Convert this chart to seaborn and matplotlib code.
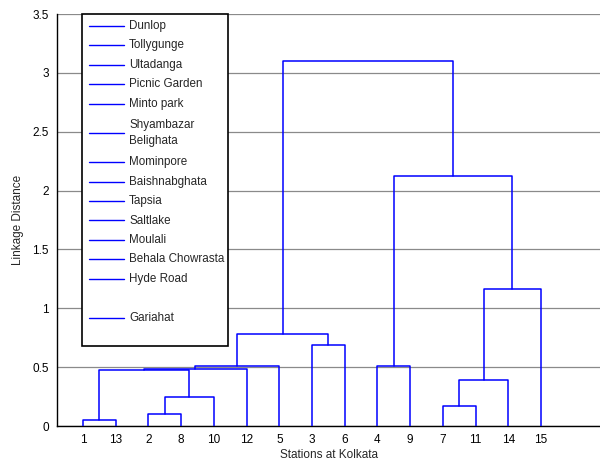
import matplotlib
matplotlib.use("Agg")
import matplotlib.pyplot as plt
import seaborn as sns
import pandas as pd
from matplotlib.patches import Rectangle
from matplotlib.lines import Line2D

# ---------------- data ----------------
leaf_order = [1, 13, 2, 8, 10, 12, 5, 3, 6, 4, 9, 7, 11, 14, 15]
# merges: (name, left child, right child, linkage distance)
merge_names = ["A", "B", "C", "D", "E", "F", "G", "H", "I", "J", "K", "L", "M", "N"]
merge_left = ["1", "2", "B", "A", "D", "E", "3", "F", "4", "7", "J", "K", "I", "H"]
merge_right = ["13", "8", "10", "C", "12", "5", "6", "G", "9", "11", "14", "15", "L", "M"]
merge_height = [0.055, 0.100, 0.250, 0.478, 0.486, 0.506, 0.687, 0.779,
                0.507, 0.167, 0.388, 1.162, 2.120, 3.100]

legend_labels = ["Dunlop", "Tollygunge", "Ultadanga", "Picnic Garden", "Minto park",
                 "Shyambazar\nBelighata", "Mominpore", "Baishnabghata", "Tapsia",
                 "Saltlake", "Moulali", "Behala Chowrasta", "Hyde Road", "", "Gariahat"]

y_ticks = [0, 0.5, 1, 1.5, 2, 2.5, 3, 3.5]
y_tick_labels = ["0", "0.5", "1", "1.5", "2", "2.5", "3", "3.5"]

# ---------------- build dendrogram segments ----------------
pos = {str(l): i + 1 for i, l in enumerate(leaf_order)}
hgt = {str(l): 0.0 for l in leaf_order}
rows = []
for name, l, r, h in zip(merge_names, merge_left, merge_right, merge_height):
    xl, xr = pos[l], pos[r]
    for (x, y) in [(xl, hgt[l]), (xl, h), (xr, h), (xr, hgt[r])]:
        rows.append({"x": x, "y": y, "seg": name})
    pos[name] = (xl + xr) / 2.0
    hgt[name] = h
seg_df = pd.DataFrame(rows)

# ---------------- figure ----------------
sns.set_style("white")
plt.rcParams["font.family"] = ["Liberation Sans", "DejaVu Sans"]

W, H = 600, 461
fig = plt.figure(figsize=(W / 100, H / 100), dpi=100)

def fx(px):
    return px / W

def fy(py):
    return 1 - py / H

ax_left, ax_right, ax_top, ax_bottom = 57, 600, 14, 426
ax = fig.add_axes([fx(ax_left), fy(ax_bottom), fx(ax_right - ax_left), (ax_bottom - ax_top) / H])

sns.lineplot(data=seg_df, x="x", y="y", units="seg", estimator=None, sort=False,
             color="#0000ff", linewidth=1.1, ax=ax, zorder=3, legend=False)

px_per_leaf = 32.72
x0 = 1 - (83 - ax_left) / px_per_leaf
x1 = 1 + (ax_right - 83) / px_per_leaf
ax.set_xlim(x0, x1)
ax.set_ylim(0, 3.5)

ax.set_xticks(range(1, len(leaf_order) + 1))
ax.set_xticklabels([str(l) for l in leaf_order])
ax.set_yticks(y_ticks)
ax.set_yticklabels(y_tick_labels)

ax.yaxis.grid(True, color="#8a8a8a", linewidth=0.9, zorder=0)
ax.xaxis.grid(False)
ax.set_axisbelow(True)

for s in ["top", "right"]:
    ax.spines[s].set_visible(False)
for s in ["left", "bottom"]:
    ax.spines[s].set_color("black")
    ax.spines[s].set_linewidth(1.0)

ax.tick_params(axis="both", direction="in", length=3, width=0.8, color="#333333",
               labelsize=8.5, labelcolor="black")
ax.tick_params(axis="x", pad=6)
ax.tick_params(axis="y", pad=6)
ax.set_xlabel("Stations at Kolkata", fontsize=8.5, labelpad=2)
ax.set_ylabel("Linkage Distance", fontsize=8.5, labelpad=6)

# ---------------- legend box ----------------
lx0, lx1, ly0, ly1 = 82, 228, 14, 346
box = Rectangle((fx(lx0), fy(ly1)), fx(lx1 - lx0), (ly1 - ly0) / H,
                transform=fig.transFigure, facecolor="white", edgecolor="black",
                linewidth=1.2, zorder=5)
fig.add_artist(box)

step = 19.45
y_start = 26
slot = 0.0
for lab in legend_labels:
    n_lines = lab.count("\n") + 1
    center = y_start + step * (slot + (n_lines - 1) / 2.0)
    if lab:
        fig.add_artist(Line2D([fx(89), fx(124)], [fy(center), fy(center)],
                              transform=fig.transFigure, color="#0000ff",
                              linewidth=1.0, zorder=6))
        fig.text(fx(129), fy(center), lab, fontsize=8.4, va="center", ha="left",
                 linespacing=1.5, zorder=6)
    slot += n_lines

fig.savefig("out.png", dpi=100)
